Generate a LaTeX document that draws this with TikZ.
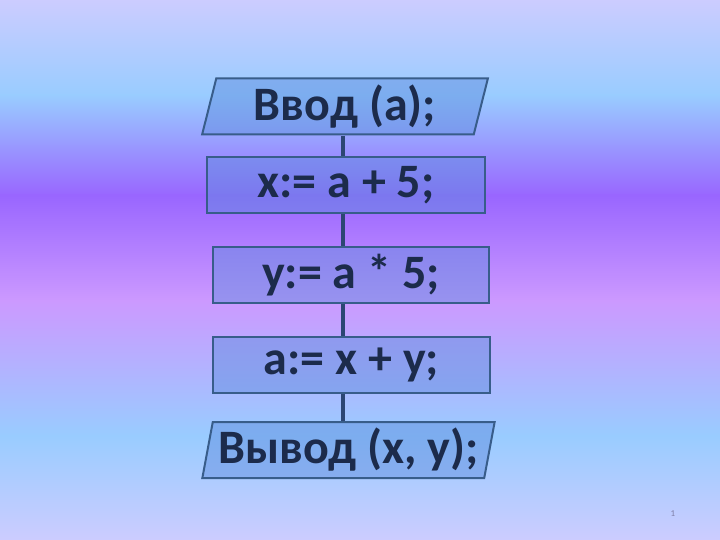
\documentclass[tikz,border=0pt]{standalone}
\usepackage{fontspec}
\setmainfont{Carlito}
\usetikzlibrary{shapes.geometric}

\definecolor{bglav}{HTML}{CCCCFF}
\definecolor{bgsky}{HTML}{99CCFF}
\definecolor{bgviolet}{HTML}{9966FF}
\definecolor{bgpink}{HTML}{CC99FF}
\definecolor{boxline}{HTML}{385D8A}
\definecolor{boxfill}{HTML}{5D8CDD}
\definecolor{boxtext}{HTML}{1C2B4B}
\definecolor{linkcol}{HTML}{2C4673}
\definecolor{pagenum}{HTML}{7F7FA8}

\tikzset{
  blockbox/.style={draw=boxline, line width=2pt, fill=boxfill, fill opacity=0.47,
    text opacity=1, text=boxtext, minimum width=277pt, minimum height=56pt,
    inner sep=0pt, font=\bfseries\fontsize{48}{48}\selectfont},
  iobox/.style={blockbox, trapezium, trapezium left angle=77,
    trapezium right angle=103, trapezium stretches=true},
  link/.style={draw=linkcol, line width=4.5pt}
}

\begin{document}
\begin{tikzpicture}[x=1pt,y=-1pt]
\useasboundingbox (0,0) rectangle (720,540);
% fond
\shade[top color=bglav, bottom color=bgsky] (0,0) rectangle (720,96);
\shade[top color=bgsky, bottom color=bgviolet] (0,95) rectangle (720,196);
\shade[top color=bgviolet, bottom color=bgpink] (0,195) rectangle (720,301);
\shade[top color=bgpink, bottom color=bgsky] (0,300) rectangle (720,436);
\shade[top color=bgsky, bottom color=bglav] (0,435) rectangle (720,540);

\coordinate (spine) at (343,0);
\node[iobox, minimum width=286pt] (inp) at (345,106.5) {Ввод (a);};
\node[blockbox, minimum width=278pt] (sx) at (346,185.5) {x:= a + 5;};
\node[blockbox, minimum width=276pt] (sy) at (351,275) {y:= a * 5;};
\node[blockbox] (sa) at (351.5,365) {a:= x + y;};
\node[iobox, minimum width=293pt] (outp) at (348.5,450) {Вывод (x, y);};
%\node (sb) at (345,520) {};

\draw[link] (inp.south -| spine) -- (sx.north -| spine);
\draw[link] (sx.south -| spine) -- (sy.north -| spine);
\draw[link] (sy.south -| spine) -- (sa.north -| spine);
\draw[link] (sa.south -| spine) -- (outp.north -| spine);

\node[text=pagenum, font=\fontsize{9}{9}\selectfont] (pnum) at (673,514) {1};
\end{tikzpicture}
\end{document}
